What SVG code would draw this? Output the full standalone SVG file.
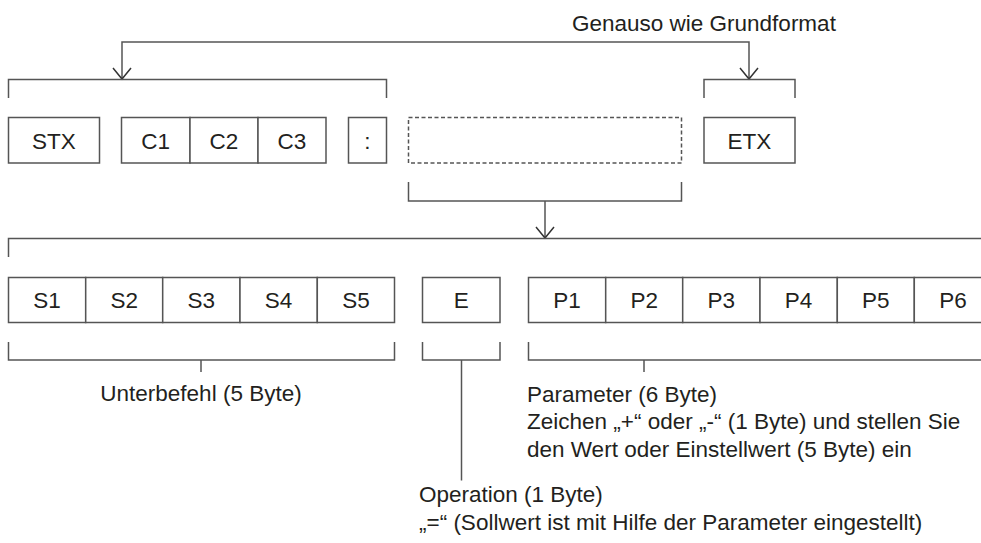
<svg xmlns="http://www.w3.org/2000/svg" width="981" height="543" viewBox="0 0 981 543">
<style>
.bx{fill:#fff;stroke:#555;stroke-width:1.5}
.dash{fill:none;stroke:#555;stroke-width:1.5;stroke-dasharray:4 2.5}
.ln{fill:none;stroke:#555;stroke-width:1.5}
.t{font-family:"Liberation Sans",Arial,sans-serif;font-size:22.5px;fill:#231f20}
.c{text-anchor:middle}
</style>
<defs>
<marker id="ah" markerUnits="userSpaceOnUse" viewBox="-12 -10 14 20" refX="0" refY="0" markerWidth="14" markerHeight="20" orient="auto" overflow="visible">
<path d="M-11,-9 L0,0 L-11,9" fill="none" stroke="#333" stroke-width="1.5"/>
</marker>
</defs>
<rect width="981" height="543" fill="#fff"/>
<g id="connectors">
<path class="ln" d="M435,42 H122 V79" marker-end="url(#ah)"/>
<path class="ln" d="M435,42 H749 V79" marker-end="url(#ah)"/>
<path class="ln" d="M8.5,98 V79.5 H386.5 V98"/>
<path class="ln" d="M704,98 V79.5 H795 V98"/>
<path class="ln" d="M408.5,182 V201 H681.5 V182"/>
<path class="ln" d="M545,201 V238" marker-end="url(#ah)"/>
<path class="ln" d="M8.5,257 V238.5 H990"/>
<path class="ln" d="M8.5,342 V360 H394.5 V342"/>
<path class="ln" d="M201,360 V372"/>
<path class="ln" d="M422.5,342 V360 H500 V342"/>
<path class="ln" d="M461.5,360 V480.5"/>
<path class="ln" d="M528.5,342 V360 H990"/>
<path class="ln" d="M644,360 V372"/>
</g>
<g id="label-genauso"><text class="t" x="572" y="30.5">Genauso wie Grundformat</text></g>
<g id="stx"><rect class="bx" x="8.5" y="117.5" width="91" height="45.5"/><text class="t c" x="54" y="148.5">STX</text></g>
<g id="c1"><rect class="bx" x="121.5" y="117.5" width="68.5" height="45.5"/><text class="t c" x="155.7" y="148.5">C1</text></g>
<g id="c2"><rect class="bx" x="190" y="117.5" width="68" height="45.5"/><text class="t c" x="224" y="148.5">C2</text></g>
<g id="c3"><rect class="bx" x="258" y="117.5" width="68" height="45.5"/><text class="t c" x="292" y="148.5">C3</text></g>
<g id="colon"><rect class="bx" x="348.5" y="117.5" width="38" height="45.5"/><text class="t c" x="367.5" y="148.5">:</text></g>
<g id="cmd"><rect class="dash" x="408.5" y="117.5" width="273" height="45.5"/></g>
<g id="etx"><rect class="bx" x="704" y="117.5" width="91" height="45.5"/><text class="t c" x="749.5" y="148.5">ETX</text></g>
<g id="s1"><rect class="bx" x="8.5" y="277.5" width="77.2" height="45"/><text class="t c" x="47.1" y="308.3">S1</text></g>
<g id="s2"><rect class="bx" x="85.7" y="277.5" width="77" height="45"/><text class="t c" x="124.2" y="308.3">S2</text></g>
<g id="s3"><rect class="bx" x="162.7" y="277.5" width="77.3" height="45"/><text class="t c" x="201.3" y="308.3">S3</text></g>
<g id="s4"><rect class="bx" x="240" y="277.5" width="77.3" height="45"/><text class="t c" x="278.6" y="308.3">S4</text></g>
<g id="s5"><rect class="bx" x="317.3" y="277.5" width="77.2" height="45"/><text class="t c" x="355.9" y="308.3">S5</text></g>
<g id="e"><rect class="bx" x="422.5" y="277.5" width="77.5" height="45"/><text class="t c" x="461.3" y="308.3">E</text></g>
<g id="p1"><rect class="bx" x="528.5" y="277.5" width="77.2" height="45"/><text class="t c" x="567.1" y="308.3">P1</text></g>
<g id="p2"><rect class="bx" x="605.7" y="277.5" width="77" height="45"/><text class="t c" x="644.2" y="308.3">P2</text></g>
<g id="p3"><rect class="bx" x="682.7" y="277.5" width="77.3" height="45"/><text class="t c" x="721.3" y="308.3">P3</text></g>
<g id="p4"><rect class="bx" x="760" y="277.5" width="77.3" height="45"/><text class="t c" x="798.6" y="308.3">P4</text></g>
<g id="p5"><rect class="bx" x="837.3" y="277.5" width="77" height="45"/><text class="t c" x="875.8" y="308.3">P5</text></g>
<g id="p6"><rect class="bx" x="914.3" y="277.5" width="77.2" height="45"/><text class="t c" x="952.9" y="308.3">P6</text></g>
<g id="label-sub"><text class="t c" x="201" y="400.5">Unterbefehl (5 Byte)</text></g>
<g id="label-param"><text class="t" x="527" y="401.5">Parameter (6 Byte)<tspan x="527" y="429">Zeichen „+“ oder „-“ (1 Byte) und stellen Sie</tspan><tspan x="527" y="456.5">den Wert oder Einstellwert (5 Byte) ein</tspan></text></g>
<g id="label-op"><text class="t" x="419" y="502">Operation (1 Byte)<tspan x="419" y="529.5">„=“ (Sollwert ist mit Hilfe der Parameter eingestellt)</tspan></text></g>
</svg>
